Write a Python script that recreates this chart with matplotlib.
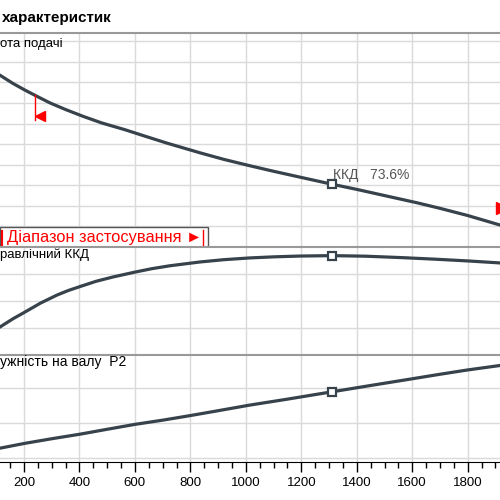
import numpy as np
import matplotlib.pyplot as plt
from matplotlib.patches import Rectangle
from matplotlib.ticker import MultipleLocator

plt.rcParams['font.family'] = ['Liberation Sans', 'DejaVu Sans']

# Висота подачі
q_h = [113, 160, 204, 250, 294, 350, 413, 480, 564, 640, 715, 834, 920, 1014,
       1100, 1200, 1311, 1400, 1500, 1617, 1700, 1800, 1916]
h = [8.35, 7.95, 7.62, 7.30, 7.00, 6.68, 6.35, 6.03, 5.70, 5.37, 5.05, 4.58,
     4.26, 3.95, 3.68, 3.38, 3.05, 2.80, 2.50, 2.15, 1.88, 1.53, 1.07]

# Гідравлічний ККД, %
q_eta = [113, 160, 204, 260, 319, 360, 402, 460, 521, 600, 660, 726, 834, 920,
         1014, 1100, 1195, 1311, 1430, 1555, 1680, 1807, 1916]
eta = [20.7, 26.8, 31.9, 38.5, 44.4, 47.8, 50.7, 54.6, 57.8, 61.4, 63.9, 66.1,
       68.9, 70.6, 71.9, 72.7, 73.3, 73.6, 73.2, 72.2, 71.0, 69.6, 68.2]

# Потужність на валу P2
q_p = [113, 204, 300, 402, 500, 600, 700, 799, 900, 1014, 1150, 1311, 1450,
       1599, 1700, 1797, 1916]
p2 = [0.28, 0.42, 0.55, 0.68, 0.82, 0.96, 1.08, 1.21, 1.35, 1.51, 1.68, 1.89,
      2.07, 2.26, 2.39, 2.51, 2.64]

q_bep = 1311
eta_bep = 73.6
range_q = [240, 1925]

x_ticks = [200, 400, 600, 800, 1000, 1200, 1400, 1600, 1800]

line_col = '#37424b'
grid_col = '#dadada'

fig = plt.figure(figsize=(5, 5), dpi=100)
ax1 = fig.add_axes([0, 0.506, 1, 0.428])
ax2 = fig.add_axes([0, 0.290, 1, 0.216])
ax3 = fig.add_axes([0, 0.076, 1, 0.214])

for ax in (ax1, ax2, ax3):
    ax.set_xlim(113.4, 1916.5)
    ax.set_xticks(x_ticks)
    ax.xaxis.set_minor_locator(MultipleLocator(50))
    ax.grid(True, which='major', color=grid_col, lw=1)
    ax.set_axisbelow(True)
    ax.tick_params(axis='y', left=False, labelleft=False)
    for s in ('left', 'right', 'bottom'):
        ax.spines[s].set_visible(False)
    ax.spines['top'].set_color('#999999')
    ax.spines['top'].set_linewidth(1.5)

for ax in (ax1, ax2):
    ax.tick_params(axis='x', which='both', length=0, labelbottom=False)

ax1.set_ylim(0, 10.4)
ax1.set_yticks(range(1, 11))
ax2.set_ylim(0, 80)
ax2.set_yticks([20, 40, 60])
ax3.set_ylim(-0.114, 2.94)
ax3.set_yticks([0, 1, 2])

ax3.spines['bottom'].set_visible(True)
ax3.spines['bottom'].set_color('black')
ax3.tick_params(axis='x', which='major', length=7, width=1, direction='out',
                labelsize=9.5, pad=4)
ax3.tick_params(axis='x', which='minor', length=4.3, width=1, direction='out')

# curves
ax1.plot(q_h, h, color=line_col, lw=2.3, solid_joinstyle='round')
ax2.plot(q_eta, eta, color=line_col, lw=2.3, solid_joinstyle='round')
ax3.plot(q_p, p2, color=line_col, lw=2.3, solid_joinstyle='round')

mk = dict(marker='s', ms=6, mfc='white', mec=line_col, mew=1.6, ls='none', zorder=5)
h_bep = np.interp(q_bep, q_h, h)
ax1.plot([q_bep], [h_bep], **mk)
ax2.plot([q_bep], [eta_bep], **mk)
ax3.plot([q_bep], [np.interp(q_bep, q_p, p2)], **mk)

ax1.annotate(f'ККД   {eta_bep}%', xy=(q_bep, h_bep), xytext=(1, 9),
             textcoords='offset pixels', va='center', ha='left',
             color='#555555', fontsize=10)

# application range markers
h0 = np.interp(range_q[0], q_h, h)
ax1.plot([range_q[0], range_q[0]], [h0, h0 - 1.2], color='red', lw=1)
ax1.plot([range_q[0] + 18], [h0 - 1.0], marker='<', color='red', ms=6.5, ls='none')
ax1.plot([range_q[1]], [1.9], marker='>', color='red', ms=8, ls='none')

ax1.add_patch(Rectangle((0, 0), 0.416, 0.093, transform=ax1.transAxes,
                        facecolor='white', edgecolor='#555555', lw=1, zorder=6))
ax1.text(0.014, 0.045, 'Діапазон застосування ►', transform=ax1.transAxes,
         color='red', fontsize=11.8, va='center', ha='left', zorder=7)
ax1.plot([0.406, 0.406], [0.0, 0.08], transform=ax1.transAxes, color='red',
         lw=1, zorder=7)
ax1.plot([0.003, 0.003], [0.01, 0.075], transform=ax1.transAxes, color='red',
         lw=1.5, zorder=7)

# texts
fig.text(0.004, 0.964, 'характеристик', fontsize=11, fontweight='bold',
         va='center', ha='left')
fig.text(0.0, 0.912, 'ота подачі', fontsize=9.5, va='center', ha='left')
fig.text(0.0, 0.490, 'равлічний ККД', fontsize=9.5, va='center', ha='left')
fig.text(0.0, 0.276, 'ужність на валу  P2', fontsize=10, va='center', ha='left')

fig.savefig('out.png', dpi=100)
